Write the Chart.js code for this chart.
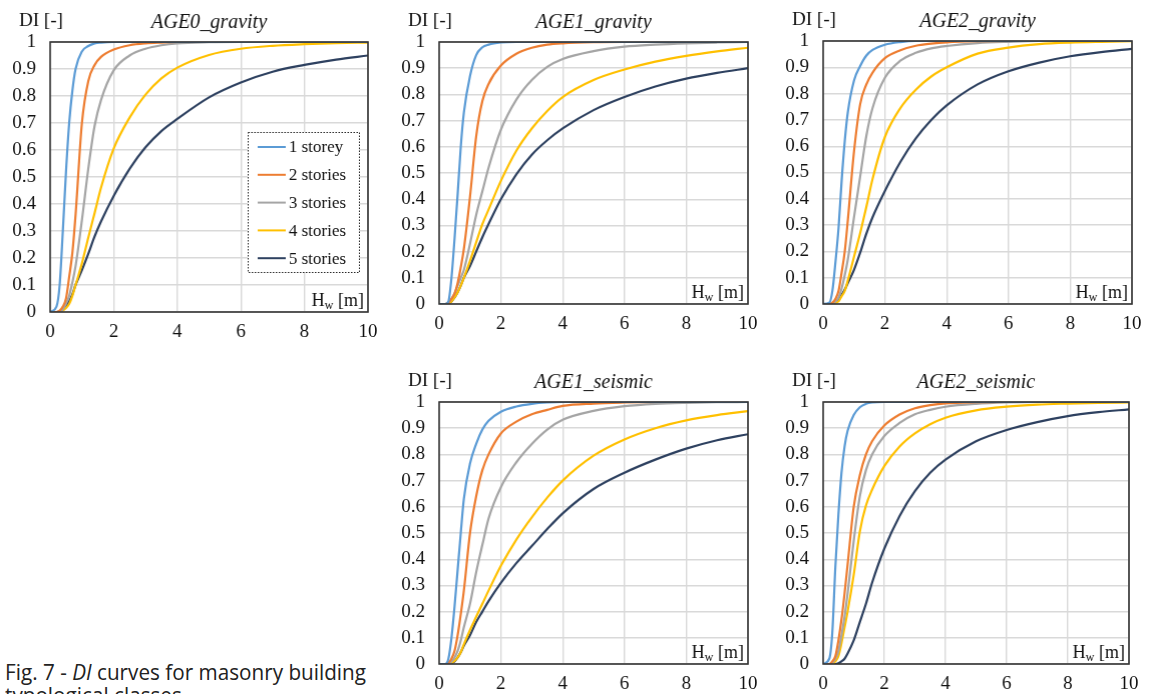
<!DOCTYPE html>
<html>
<head>
<meta charset="utf-8">
<script src="https://cdn.jsdelivr.net/npm/chart.js@4.4.1/dist/chart.umd.min.js"></script>
<style>
  html, body { margin: 0; padding: 0; background: #fff; }
  body { width: 1149px; height: 694px; position: relative; overflow: hidden; }
  canvas { position: absolute; }
  #caption {
    position: absolute; left: 5px; top: 660px;
    font-family: 'Open Sans', sans-serif; font-size: 22px; line-height: 23px;
    color: #222; white-space: nowrap; transform-origin: 0 0;
  }
</style>
</head>
<body>
<div id="caption"><span id="cap1">Fig. 7 - <i>DI</i> curves for masonry building</span><br>typological classes</div>
<script>
// water height H_w [m], shared by every curve
const hw = [0, 0.2, 0.3, 0.4, 0.5, 0.6, 0.7, 0.8, 1.0, 1.2, 1.4, 1.6, 2, 2.5, 3, 3.5, 4, 5, 6, 7, 8, 9, 10];
const storeyLabels = ['1 storey', '2 stories', '3 stories', '4 stories', '5 stories'];
const xTicks = [0, 2, 4, 6, 8, 10];

// DI values, one row per number of storeys
const age0Gravity = [
  [0, .02, .1, .3, .52, .7, .82, .9, .965, .985, .995, .998, 1, 1, 1, 1, 1, 1, 1, 1, 1, 1, 1],
  [0, 0, .005, .02, .05, .13, .22, .36, .7, .855, .915, .945, .972, .988, .995, .998, 1, 1, 1, 1, 1, 1, 1],
  [0, 0, 0, .01, .03, .06, .11, .17, .34, .53, .69, .785, .895, .95, .975, .988, .995, .999, 1, 1, 1, 1, 1],
  [0, 0, 0, .005, .015, .03, .06, .1, .18, .275, .367, .46, .605, .72, .805, .865, .905, .952, .975, .986, .992, .996, .998],
  [0, 0, .003, .01, .025, .04, .065, .1, .155, .215, .28, .335, .43, .53, .61, .67, .715, .795, .85, .89, .915, .935, .95],
];
const age1Gravity = [
  [0, 0, .01, .1, .25, .42, .6, .73, .87, .95, .98, .99, .998, 1, 1, 1, 1, 1, 1, 1, 1, 1, 1],
  [0, 0, .005, .02, .04, .08, .14, .21, .41, .64, .775, .84, .91, .955, .978, .99, .995, .999, 1, 1, 1, 1, 1],
  [0, 0, .005, .02, .04, .07, .1, .13, .23, .34, .43, .52, .665, .78, .855, .905, .935, .965, .982, .99, .995, .998, 1],
  [0, 0, .003, .01, .025, .045, .07, .1, .165, .235, .305, .36, .47, .585, .67, .737, .79, .855, .895, .925, .947, .964, .978],
  [0, 0, .003, .01, .025, .045, .07, .1, .145, .2, .255, .305, .4, .495, .57, .625, .67, .74, .79, .83, .86, .882, .9],
];
const age2Gravity = [
  [0, .005, .05, .16, .29, .47, .62, .73, .85, .905, .945, .966, .986, .996, 1, 1, 1, 1, 1, 1, 1, 1, 1],
  [0, 0, .005, .02, .05, .12, .2, .32, .58, .76, .835, .88, .935, .965, .982, .99, .995, .999, 1, 1, 1, 1, 1],
  [0, 0, 0, .01, .025, .06, .11, .17, .33, .485, .64, .745, .86, .925, .955, .972, .981, .992, .997, 1, 1, 1, 1],
  [0, 0, 0, .005, .01, .03, .05, .09, .18, .27, .37, .475, .635, .745, .815, .865, .9, .952, .975, .988, .994, .997, .999],
  [0, 0, .003, .01, .02, .035, .055, .08, .13, .195, .268, .33, .43, .54, .63, .7, .755, .835, .885, .918, .942, .958, .97],
];
const age1Seismic = [
  [0, 0, .02, .1, .22, .36, .5, .63, .765, .84, .895, .928, .963, .983, .993, .998, 1, 1, 1, 1, 1, 1, 1],
  [0, 0, .005, .02, .05, .11, .19, .28, .5, .64, .74, .8, .88, .925, .953, .97, .985, .994, .998, 1, 1, 1, 1],
  [0, 0, 0, .01, .025, .05, .09, .14, .23, .35, .455, .555, .675, .77, .84, .895, .932, .966, .984, .993, .997, .999, 1],
  [0, 0, 0, .005, .012, .025, .045, .075, .13, .18, .23, .28, .375, .475, .56, .635, .7, .795, .857, .9, .93, .95, .965],
  [0, 0, 0, .005, .01, .025, .045, .07, .11, .16, .2, .24, .31, .385, .45, .515, .575, .668, .73, .78, .822, .854, .877],
];
const age2Seismic = [
  [0, .02, .12, .37, .57, .73, .83, .89, .95, .98, .993, .998, 1, 1, 1, 1, 1, 1, 1, 1, 1, 1, 1],
  [0, 0, .01, .03, .09, .17, .27, .38, .6, .72, .8, .85, .91, .952, .976, .988, .995, .999, 1, 1, 1, 1, 1],
  [0, 0, .005, .02, .05, .11, .18, .27, .47, .64, .74, .8, .87, .92, .953, .97, .982, .993, .998, 1, 1, 1, 1],
  [0, 0, 0, .01, .03, .08, .14, .2, .34, .505, .605, .665, .755, .83, .88, .915, .94, .968, .982, .99, .994, .997, .998],
  [0, 0, 0, 0, .003, .01, .02, .04, .09, .16, .23, .31, .44, .565, .66, .73, .78, .85, .893, .923, .946, .961, .972],
];

const colors = ['#5b9bd5', '#ed7d31', '#a5a5a5', '#ffc000', '#2e4160'];
const SERIF = "'Liberation Serif', 'Times New Roman', serif";

// plot-area rectangle of each panel on the page: [left, top, right, bottom]
const panels = [
  { title: 'AGE0_gravity', rows: age0Gravity, area: [50, 42, 367, 312], legend: true },
  { title: 'AGE1_gravity', rows: age1Gravity, area: [439, 42, 747, 304] },
  { title: 'AGE2_gravity', rows: age2Gravity, area: [823, 41, 1131, 304] },
  { title: 'AGE1_seismic', rows: age1Seismic, area: [439, 402, 747, 664] },
  { title: 'AGE2_seismic', rows: age2Seismic, area: [823, 402, 1128, 664] },
];

const PAD_L = 52;
const PAD_T = 42;
const PAD_R = 16;
const PAD_B = 32;

const decorations = {
  id: 'decorations',
  afterDatasetsDraw(chart, args, opts) {
    const { ctx, chartArea: ca } = chart;
    ctx.save();

    // frame round the plot area
    ctx.strokeStyle = '#333';
    ctx.lineWidth = 1.6;
    ctx.strokeRect(ca.left, ca.top, ca.right - ca.left, ca.bottom - ca.top);

    // H_w [m] label, lower right inside the plot
    ctx.font = `18px ${SERIF}`;
    const wH = ctx.measureText('H').width;
    const wM = ctx.measureText(' [m]').width;
    ctx.font = `12px ${SERIF}`;
    const wW = ctx.measureText('w').width;
    const right = ca.right - 4;
    const x0 = right - (wH + wW + wM);
    const base = ca.bottom - 6;
    ctx.fillStyle = '#fff';
    ctx.fillRect(x0 - 3, ca.bottom - 23, right - x0 + 3, 22);
    ctx.fillStyle = '#111';
    ctx.textBaseline = 'alphabetic';
    ctx.textAlign = 'left';
    ctx.font = `18px ${SERIF}`;
    ctx.fillText('H', x0, base);
    ctx.font = `12px ${SERIF}`;
    ctx.fillText('w', x0 + wH, base + 3);
    ctx.font = `18px ${SERIF}`;
    ctx.fillText(' [m]', x0 + wH + wW, base);

    if (opts.legend) {
      const bw = 111;
      const bh = 140;
      const bx = ca.right - 9 - bw;
      const by = ca.bottom - 40 - bh;
      ctx.fillStyle = '#fff';
      ctx.fillRect(bx, by, bw, bh);
      ctx.strokeStyle = '#222';
      ctx.lineWidth = 1;
      ctx.setLineDash([1.5, 1.5]);
      ctx.strokeRect(bx + 0.5, by + 0.5, bw, bh);
      ctx.setLineDash([]);
      ctx.font = `17px ${SERIF}`;
      ctx.textBaseline = 'middle';
      chart.data.datasets.forEach((ds, i) => {
        const y = by + 15 + i * 27.8;
        ctx.strokeStyle = ds.borderColor;
        ctx.lineWidth = 2;
        ctx.beginPath();
        ctx.moveTo(bx + 10, y);
        ctx.lineTo(bx + 38, y);
        ctx.stroke();
        ctx.fillStyle = '#111';
        ctx.fillText(ds.label, bx + 41, y + 1);
      });
    }
    ctx.restore();
  },
  afterDraw(chart, args, opts) {
    const { ctx, chartArea: ca } = chart;
    ctx.save();
    ctx.fillStyle = '#111';
    ctx.textBaseline = 'middle';
    ctx.font = `19px ${SERIF}`;
    ctx.textAlign = 'left';
    ctx.fillText('DI [-]', ca.left - 31, ca.top - 21);
    ctx.font = `italic 20px ${SERIF}`;
    ctx.textAlign = 'center';
    ctx.fillText(opts.title, (ca.left + ca.right) / 2, ca.top - 19);
    ctx.restore();
  },
};

const tickFont = { family: SERIF, size: 19 };

panels.forEach(({ title, rows, area, legend }) => {
  const [l, t, r, b] = area;
  const canvas = document.createElement('canvas');
  let w = r - l + PAD_L + PAD_R;
  let h = b - t + PAD_T + PAD_B;
  canvas.style.left = `${l - PAD_L}px`;
  canvas.style.top = `${t - PAD_T}px`;
  canvas.style.width = `${w}px`;
  canvas.style.height = `${h}px`;
  canvas.width = w;
  canvas.height = h;
  document.body.appendChild(canvas);

  const datasets = rows.map((vals, i) => ({
    label: storeyLabels[i],
    data: hw.map((x, k) => ({ x, y: vals[k] })),
    borderColor: colors[i],
    borderWidth: 2.2,
    pointRadius: 0,
    showLine: true,
    fill: false,
    cubicInterpolationMode: 'monotone',
  }));

  const chart = new Chart(canvas, {
    type: 'scatter',
    data: { datasets },
    plugins: [decorations],
    options: {
      responsive: false,
      maintainAspectRatio: false,
      animation: false,
      devicePixelRatio: 1,
      layout: { padding: { top: PAD_T, right: PAD_R, left: 0, bottom: 0 } },
      plugins: {
        legend: { display: false },
        tooltip: { enabled: false },
        decorations: { title, legend: !!legend },
      },
      scales: {
        x: {
          type: 'linear',
          min: 0,
          max: 10,
          afterFit: s => { s.height = PAD_B; },
          afterBuildTicks: s => { s.ticks = xTicks.map(value => ({ value })); },
          border: { display: false },
          grid: { color: '#d9d9d9', lineWidth: 1.4, drawTicks: false },
          ticks: { padding: 9, color: '#111', font: tickFont, maxRotation: 0, autoSkip: false },
        },
        y: {
          min: 0,
          max: 1,
          afterFit: s => { s.width = PAD_L; },
          border: { display: false },
          grid: { color: '#d9d9d9', lineWidth: 1.4, drawTicks: false },
          ticks: {
            stepSize: 0.1,
            padding: 14,
            color: '#111',
            font: tickFont,
            callback: v => String(Math.round(v * 10) / 10),
          },
        },
      },
    },
  });

  // nudge the canvas so the plot area lands exactly on the wanted rectangle
  const ca = chart.chartArea;
  w += (r - l) - (ca.right - ca.left);
  h += (b - t) - (ca.bottom - ca.top);
  canvas.style.left = `${l - ca.left}px`;
  canvas.style.top = `${t - ca.top}px`;
  chart.resize(w, h);
});

// caption: squeeze the first line to the width it has in the figure
const fitCaption = () => {
  const cap = document.getElementById('caption');
  cap.style.transform = 'none';
  const w = document.getElementById('cap1').getBoundingClientRect().width;
  cap.style.transform = `scaleX(${361 / w})`;
};
fitCaption();
if (document.fonts) document.fonts.ready.then(fitCaption);
</script>
</body>
</html>
